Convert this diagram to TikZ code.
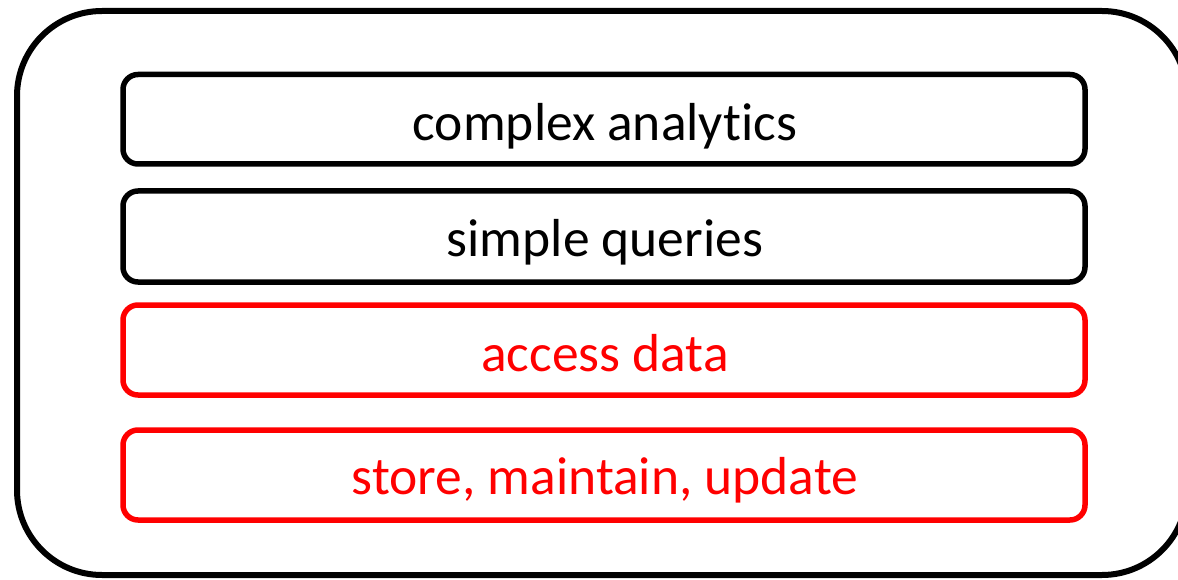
\documentclass[tikz,border=0pt]{standalone}
\usepackage{fontspec}
\setmainfont{Carlito}[Ligatures=NoCommon]
\begin{document}
\begin{tikzpicture}[x=1pt,y=-1pt,
  layer/.style={line width=5.5pt,rounded corners=15pt},
  lbl/.style={font=\fontsize{53.5}{55}\selectfont,inner sep=0pt,anchor=base}]
\useasboundingbox (0,0) rectangle (1178,580);
\clip (0,0) rectangle (1178,580);
\draw[line width=6pt,rounded corners=85pt] (17,11) rectangle (1187,575);
\draw[layer,black] (123,74.5) rectangle (1085,164);
\draw[layer,black] (123,191) rectangle (1085,282);
\draw[layer,red] (123,305) rectangle (1085,395);
\draw[layer,red] (123,430) rectangle (1085,520);
\node[lbl] (t1) at (605,141) {complex analytics};
\node[lbl] (t2) at (605,257) {simple queries};
\node[lbl,text=red] (t3) at (605,371) {access data};
\node[lbl,text=red] (t4) at (605,494) {store, maintain, update};
\end{tikzpicture}
\end{document}
